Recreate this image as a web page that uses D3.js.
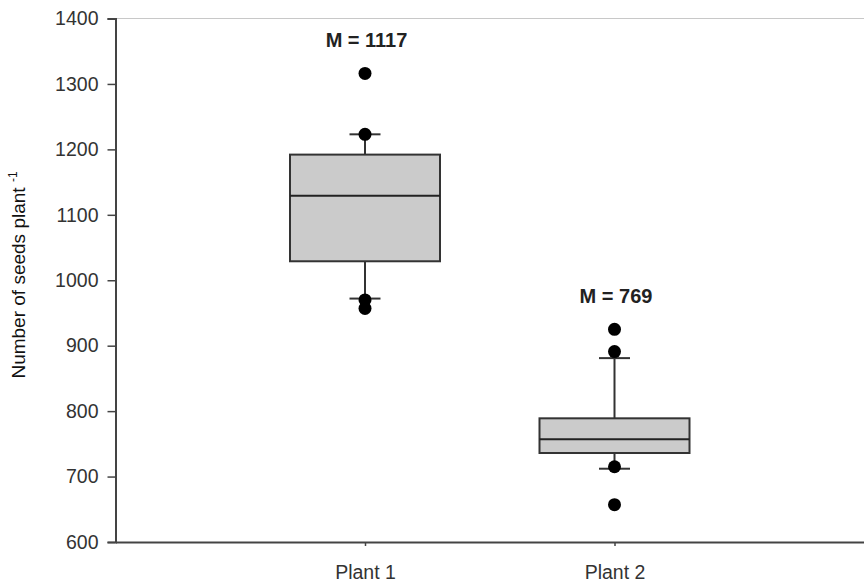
<!DOCTYPE html>
<html><head><meta charset="utf-8">
<script src="https://cdn.jsdelivr.net/npm/d3@7"></script>
<style>body{margin:0;background:#fff}svg{display:block}text{font-family:"Liberation Sans",Arial,sans-serif}</style>
</head><body>
<svg id="c" width="864" height="586"></svg>
<script>
const categories = ["Plant 1", "Plant 2"];
const q1 = [1029, 736];
const median = [1129, 757];
const q3 = [1192, 789];
const whiskerLow = [972, 712];
const whiskerHigh = [1223, 881];
const outliers = [[1316, 1223, 970, 957], [925, 891, 715, 657]];
const meanLabels = ["M = 1117", "M = 769"];
const meanLabelValue = [1367, 976];
const yTicks = [600, 700, 800, 900, 1000, 1100, 1200, 1300, 1400];

(function () {
const svg = d3.select("#c");
const mLeft = 115.5, mRight = 864, mTop = 18.5, mBottom = 542;
const x = d3.scalePoint().domain(categories).range([mLeft, mRight]).padding(1);
const y = d3.scaleLinear().domain([600, 1400]).range([mBottom, mTop]);
const boxW = 150, capW = 31;
const fs = 19.5;

// top frame line
svg.append("line").attr("x1", mLeft).attr("x2", mRight).attr("y1", mTop).attr("y2", mTop)
  .attr("stroke", "#c8c8c8").attr("stroke-width", 1);

// y axis
const ya = svg.append("g").attr("transform", `translate(${mLeft},0)`)
  .call(d3.axisLeft(y).tickValues(yTicks).tickFormat(d3.format("d")).tickSize(8).tickPadding(9));
ya.attr("font-size", null).attr("font-family", null);
ya.select(".domain").attr("stroke", "#444").attr("stroke-width", 2);
ya.selectAll(".tick line").attr("stroke", "#444").attr("stroke-width", 1.5);
ya.selectAll(".tick text").attr("fill", "#333").style("font-size", fs + "px");

// x axis
const xa = svg.append("g").attr("transform", `translate(0,${mBottom})`)
  .call(d3.axisBottom(x).tickSize(4).tickPadding(19).tickSizeOuter(0));
xa.attr("font-size", null).attr("font-family", null);
xa.select(".domain").attr("stroke", "#444").attr("stroke-width", 2);
xa.selectAll(".tick line").attr("stroke", "#444").attr("stroke-width", 1.5);
xa.selectAll(".tick text").attr("fill", "#333").style("font-size", fs + "px");

// y label
const yl = svg.append("text").attr("transform", "translate(25,275) rotate(-90)")
  .attr("text-anchor", "middle").style("font-size", "19px").attr("fill", "#111");
yl.append("tspan").text("Number of seeds plant ");
yl.append("tspan").style("font-size", "12px").attr("dy", -8).text("-1");

categories.forEach((c, i) => {
  const cx = x(c);
  const g = svg.append("g");
  g.append("line").attr("x1", cx).attr("x2", cx).attr("y1", y(q3[i])).attr("y2", y(whiskerHigh[i]))
    .attr("stroke", "#333").attr("stroke-width", 2);
  g.append("line").attr("x1", cx).attr("x2", cx).attr("y1", y(q1[i])).attr("y2", y(whiskerLow[i]))
    .attr("stroke", "#333").attr("stroke-width", 2);
  [whiskerHigh[i], whiskerLow[i]].forEach(v => {
    g.append("line").attr("x1", cx - capW / 2).attr("x2", cx + capW / 2).attr("y1", y(v)).attr("y2", y(v))
      .attr("stroke", "#333").attr("stroke-width", 2);
  });
  g.append("rect").attr("x", cx - boxW / 2).attr("width", boxW)
    .attr("y", y(q3[i])).attr("height", y(q1[i]) - y(q3[i]))
    .attr("fill", "#cbcbcb").attr("stroke", "#333").attr("stroke-width", 2);
  g.append("line").attr("x1", cx - boxW / 2).attr("x2", cx + boxW / 2)
    .attr("y1", y(median[i])).attr("y2", y(median[i])).attr("stroke", "#222").attr("stroke-width", 2);
  outliers[i].forEach(v => {
    g.append("circle").attr("cx", cx).attr("cy", y(v)).attr("r", 6.5).attr("fill", "#000");
  });
  g.append("text").attr("x", cx + 1.5).attr("y", y(meanLabelValue[i])).attr("dy", "0.35em")
    .attr("text-anchor", "middle").style("font-size", "20px").attr("font-weight", "bold").attr("fill", "#222")
    .text(meanLabels[i]);
});
})();
</script>
</body></html>
